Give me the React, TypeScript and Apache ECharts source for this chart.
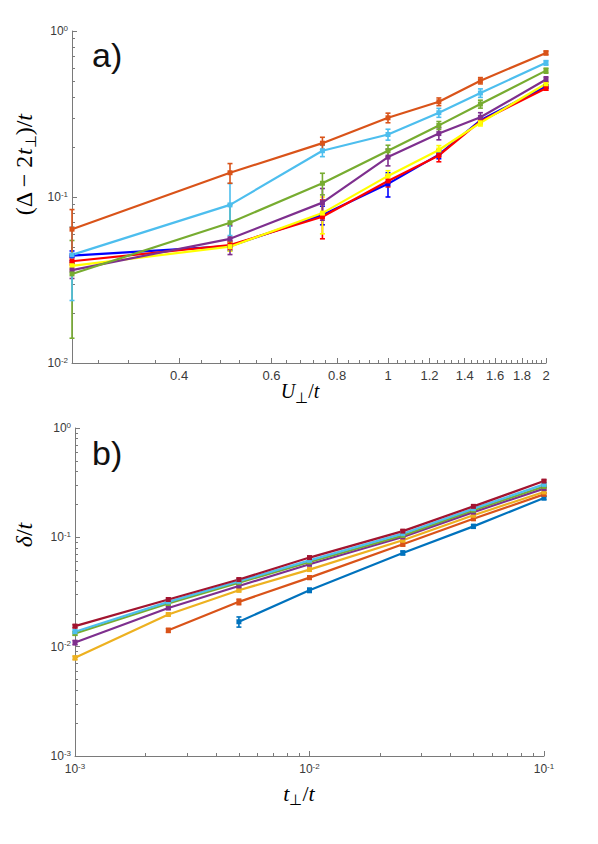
import { useEffect, useRef } from 'react';
import * as echarts from 'echarts';

// ---------- Panel a) : (Δ − 2t⊥)/t versus U⊥/t ----------
const uValues = [0.25, 0.5, 0.75, 1, 1.25, 1.5, 2];
const aBlue = [0.0443, 0.0506, 0.078, 0.12, 0.18, 0.29, 0.463];
const aBlueErr = [0.003, 0.003, 0.01, 0.02, 0.01, 0.01, 0.01];
const aRed = [0.041, 0.0514, 0.076, 0.125, 0.178, 0.286, 0.452];
const aRedErr = [0.002, 0.003, 0.02, 0.01, 0.015, 0.01, 0.012];
const aYellow = [0.0385, 0.0502, 0.08, 0.134, 0.192, 0.28, 0.481];
const aYellowErr = [0.002, 0.003, 0.02, 0.01, 0.012, 0.012, 0.012];
const aPurple = [0.0363, 0.056, 0.0925, 0.174, 0.241, 0.302, 0.51];
const aPurpleErr = [0.004, 0.011, 0.02, 0.02, 0.02, 0.02, 0.02];
const aGreen = [0.0344, 0.07, 0.121, 0.19, 0.27, 0.363, 0.577];
const aGreenErr = [0.0203, 0.02, 0.018, 0.015, 0.015, 0.02, 0.02];
const aLightBlue = [0.0448, 0.0896, 0.19, 0.238, 0.322, 0.423, 0.643];
const aLightBlueErr = [0.021, 0.031, 0.015, 0.018, 0.02, 0.025, 0.02];
const aOrange = [0.064, 0.14, 0.211, 0.3, 0.375, 0.502, 0.738];
const aOrangeErr = [0.02, 0.019, 0.018, 0.02, 0.02, 0.022, 0.02];

const aXTicks = [0.4, 0.6, 0.8, 1, 1.2, 1.4, 1.6, 1.8, 2];
const aYTicks = [0.01, 0.1, 1];

// ---------- Panel b) : δ/t versus t⊥/t ----------
const tValues = [0.001, 0.0025, 0.005, 0.01, 0.025, 0.05, 0.1];
const bBlue = [null, null, 0.0169, 0.0328, 0.072, 0.126, 0.229];
const bBlueErr = [0, 0, 0.0018, 0.0015, 0.003, 0.005, 0.008];
const bOrange = [null, 0.0141, 0.0257, 0.0428, 0.0863, 0.148, 0.247];
const bOrangeErr = [0, 0.0006, 0.0015, 0.0015, 0.003, 0.005, 0.008];
const bYellow = [0.0079, 0.0197, 0.0328, 0.0507, 0.094, 0.159, 0.26];
const bYellowErr = [0.0003, 0.0006, 0.001, 0.0015, 0.003, 0.005, 0.008];
const bPurple = [0.0109, 0.0226, 0.0359, 0.0567, 0.1007, 0.17, 0.279];
const bPurpleErr = [0.0005, 0.0007, 0.001, 0.0015, 0.003, 0.005, 0.008];
const bGreen = [0.0132, 0.0248, 0.0385, 0.0595, 0.104, 0.177, 0.292];
const bGreenErr = [0.0005, 0.0007, 0.001, 0.0015, 0.003, 0.005, 0.008];
const bLightBlue = [0.0137, 0.0257, 0.0396, 0.0616, 0.108, 0.183, 0.305];
const bLightBlueErr = [0.0005, 0.0007, 0.001, 0.0015, 0.003, 0.005, 0.008];
const bDarkRed = [0.0154, 0.027, 0.0411, 0.0653, 0.114, 0.192, 0.327];
const bDarkRedErr = [0.0005, 0.0007, 0.001, 0.0015, 0.003, 0.005, 0.008];

const bXTicks = [0.001, 0.01, 0.1];
const bYTicks = [0.001, 0.01, 0.1, 1];

const lg = (v: number) => Math.log10(v);

function minorLogTicks(lo: number, hi: number) {
  const out: number[] = [];
  for (let d = lo; d < hi; d++) {
    for (let k = 2; k <= 9; k++) out.push(d + Math.log10(k));
  }
  return out;
}

function minorLinearTicks(start: number, end: number, step: number, majors: number[]) {
  const out: number[] = [];
  const n = Math.round((end - start) / step);
  for (let i = 0; i <= n; i++) {
    const v = +(start + i * step).toFixed(4);
    if (!majors.some((m) => Math.abs(m - v) < 1e-6)) out.push(Math.log10(v));
  }
  return out;
}

const AXIS = '#7a7a7a';
const LABEL = '#3a3a3a';
const SANS = 'Liberation Sans, Helvetica, Arial, sans-serif';
const SERIF = 'Liberation Serif, Times New Roman, serif';

function makeSeries(
  xs: number[],
  ys: (number | null)[],
  errs: number[],
  color: string,
  gi: number,
  width: number
) {
  const pts: number[][] = [];
  const bars: number[][] = [];
  xs.forEach((x, i) => {
    const y = ys[i];
    if (y == null) return;
    pts.push([lg(x), lg(y)]);
    const e = errs[i];
    bars.push([lg(x), lg(Math.max(y - e, 1e-6)), lg(y + e)]);
  });
  const xi = gi * 2;
  const yi = gi * 2;
  return [
    {
      type: 'custom',
      xAxisIndex: xi,
      yAxisIndex: yi,
      data: bars,
      encode: { x: 0, y: [1, 2] },
      clip: false,
      silent: true,
      renderItem: (_p: any, api: any) => {
        const x = api.value(0);
        const a = api.coord([x, api.value(1)]);
        const b = api.coord([x, api.value(2)]);
        const c = 2.5;
        const st = { stroke: color, lineWidth: 1.6 };
        return {
          type: 'group',
          children: [
            { type: 'line', shape: { x1: a[0], y1: a[1], x2: b[0], y2: b[1] }, style: st },
            { type: 'line', shape: { x1: a[0] - c, y1: a[1], x2: a[0] + c, y2: a[1] }, style: st },
            { type: 'line', shape: { x1: b[0] - c, y1: b[1], x2: b[0] + c, y2: b[1] }, style: st },
          ],
        };
      },
    },
    {
      type: 'line',
      xAxisIndex: xi,
      yAxisIndex: yi,
      data: pts,
      symbol: 'rect',
      symbolSize: 5,
      showSymbol: true,
      clip: false,
      silent: true,
      lineStyle: { color, width },
      itemStyle: { color },
    },
  ];
}

const supRich = {
  sup: { fontSize: 8, lineHeight: 8, verticalAlign: 'top', color: LABEL, fontFamily: SANS },
};

const powLabel = (v: number) => `10{sup|${Math.round(v)}}`;

export default function App() {
  const ref = useRef<HTMLDivElement>(null);

  useEffect(() => {
    document.body.style.margin = '0';
    if (!ref.current) return;
    const chart = echarts.init(ref.current, undefined, { renderer: 'svg' });

    const aXMin = lg(0.25);
    const aXMax = lg(2);
    const aXMajor = aXTicks.map(lg);
    const aXMinor = minorLinearTicks(0.28, 1.96, 0.04, aXTicks);
    const aYMajor = aYTicks.map(lg);
    const aYMinor = minorLogTicks(-2, 0);
    const bXMajor = bXTicks.map(lg);
    const bXMinor = minorLogTicks(-3, -1);
    const bYMajor = bYTicks.map(lg);
    const bYMinor = minorLogTicks(-3, 0);

    const majorX = (gi: number, min: number, max: number, vals: number[], fmt: (v: number) => string, fs: number, margin: number) => ({
      gridIndex: gi,
      type: 'value',
      position: 'bottom',
      min,
      max,
      axisLine: { show: true, onZero: false, lineStyle: { color: AXIS, width: 1 } },
      axisTick: { show: true, inside: true, length: 5, customValues: vals, lineStyle: { color: AXIS } },
      axisLabel: {
        show: true,
        customValues: vals,
        formatter: fmt,
        color: LABEL,
        fontSize: fs,
        fontFamily: SANS,
        margin,
        lineHeight: 14,
        rich: supRich,
      },
      splitLine: { show: false },
    });
    const minorX = (gi: number, min: number, max: number, vals: number[]) => ({
      gridIndex: gi,
      type: 'value',
      position: 'bottom',
      min,
      max,
      axisLine: { show: false, onZero: false },
      axisTick: { show: true, inside: true, length: 3, customValues: vals, lineStyle: { color: AXIS } },
      axisLabel: { show: false },
      splitLine: { show: false },
    });
    const majorY = (gi: number, min: number, max: number, vals: number[]) => ({
      gridIndex: gi,
      type: 'value',
      position: 'left',
      min,
      max,
      axisLine: { show: true, onZero: false, lineStyle: { color: AXIS, width: 1 } },
      axisTick: { show: true, inside: true, length: 5, customValues: vals, lineStyle: { color: AXIS } },
      axisLabel: {
        show: true,
        customValues: vals,
        formatter: powLabel,
        color: LABEL,
        fontSize: 12,
        fontFamily: SANS,
        margin: 4,
        lineHeight: 14,
        rich: supRich,
      },
      splitLine: { show: false },
    });
    const minorY = (gi: number, min: number, max: number, vals: number[]) => ({
      gridIndex: gi,
      type: 'value',
      position: 'left',
      min,
      max,
      axisLine: { show: false, onZero: false },
      axisTick: { show: true, inside: true, length: 3, customValues: vals, lineStyle: { color: AXIS } },
      axisLabel: { show: false },
      splitLine: { show: false },
    });

    const aFmt = (v: number) => String(+Math.pow(10, v).toFixed(2));

    const series: any[] = [
      ...makeSeries(uValues, aBlue, aBlueErr, '#0000ff', 0, 2.2),
      ...makeSeries(uValues, aRed, aRedErr, '#ff0000', 0, 2.2),
      ...makeSeries(uValues, aYellow, aYellowErr, '#ffff00', 0, 2.2),
      ...makeSeries(uValues, aPurple, aPurpleErr, '#7e2f8e', 0, 2.2),
      ...makeSeries(uValues, aGreen, aGreenErr, '#77ac30', 0, 2.2),
      ...makeSeries(uValues, aLightBlue, aLightBlueErr, '#4dbeee', 0, 2.2),
      ...makeSeries(uValues, aOrange, aOrangeErr, '#d95319', 0, 2.2),
      ...makeSeries(tValues, bBlue, bBlueErr, '#0072bd', 1, 2.2),
      ...makeSeries(tValues, bOrange, bOrangeErr, '#d95319', 1, 2.2),
      ...makeSeries(tValues, bYellow, bYellowErr, '#edb120', 1, 2.2),
      ...makeSeries(tValues, bPurple, bPurpleErr, '#7e2f8e', 1, 2.2),
      ...makeSeries(tValues, bGreen, bGreenErr, '#77ac30', 1, 2.2),
      ...makeSeries(tValues, bLightBlue, bLightBlueErr, '#4dbeee', 1, 2.2),
      ...makeSeries(tValues, bDarkRed, bDarkRedErr, '#a2142f', 1, 2.2),
    ];

    const italic = { fontStyle: 'italic', fontFamily: SERIF, fontSize: 24, lineHeight: 28, color: '#111', verticalAlign: 'middle' };
    const roman = { fontFamily: SERIF, fontSize: 24, lineHeight: 28, color: '#111', verticalAlign: 'middle' };
    const sub = { fontFamily: SERIF, fontSize: 15, lineHeight: 15, color: '#111', verticalAlign: 'bottom' };

    chart.setOption({
      animation: false,
      backgroundColor: '#ffffff',
      grid: [
        { left: 72, top: 31, width: 474, height: 332, containLabel: false, outerBoundsMode: 'none' },
        { left: 75, top: 428, width: 469, height: 328, containLabel: false, outerBoundsMode: 'none' },
      ],
      xAxis: [
        majorX(0, aXMin, aXMax, aXMajor, aFmt, 13, 5),
        minorX(0, aXMin, aXMax, aXMinor),
        majorX(1, -3, -1, bXMajor, powLabel, 12, 6),
        minorX(1, -3, -1, bXMinor),
      ],
      yAxis: [
        majorY(0, -2, 0, aYMajor),
        minorY(0, -2, 0, aYMinor),
        majorY(1, -3, 0, bYMajor),
        minorY(1, -3, 0, bYMinor),
      ],
      series,
      graphic: [
        {
          type: 'text',
          left: 92,
          top: 38,
          style: { text: 'a)', font: `34px ${SANS}`, fill: '#111' },
        },
        {
          type: 'text',
          left: 92,
          top: 436,
          style: { text: 'b)', font: `34px ${SANS}`, fill: '#111' },
        },
        {
          type: 'text',
          x: 24,
          y: 165,
          rotation: Math.PI / 2,
          style: {
            text: '{r|(Δ − 2}{i|t}{s|⊥}{r|)/}{i|t}',
            align: 'center',
            verticalAlign: 'middle',
            rich: { r: roman, i: italic, s: sub },
          },
        },
        {
          type: 'text',
          x: 24,
          y: 535,
          rotation: Math.PI / 2,
          style: {
            text: '{i|δ}{r|/}{i|t}',
            align: 'center',
            verticalAlign: 'middle',
            rich: { r: roman, i: italic },
          },
        },
        {
          type: 'text',
          x: 300,
          y: 391,
          style: {
            text: '{i|U}{s|⊥}{r|/}{i|t}',
            align: 'center',
            verticalAlign: 'middle',
            rich: { r: { ...roman, fontSize: 20 }, i: { ...italic, fontSize: 20 }, s: sub },
          },
        },
        {
          type: 'text',
          x: 299,
          y: 793,
          style: {
            text: '{i|t}{s|⊥}{r|/}{i|t}',
            align: 'center',
            verticalAlign: 'middle',
            rich: { r: { ...roman, fontSize: 22 }, i: { ...italic, fontSize: 22 }, s: sub },
          },
        },
      ],
    });

    return () => chart.dispose();
  }, []);

  return <div ref={ref} style={{ width: 598, height: 844 }} />;
}
